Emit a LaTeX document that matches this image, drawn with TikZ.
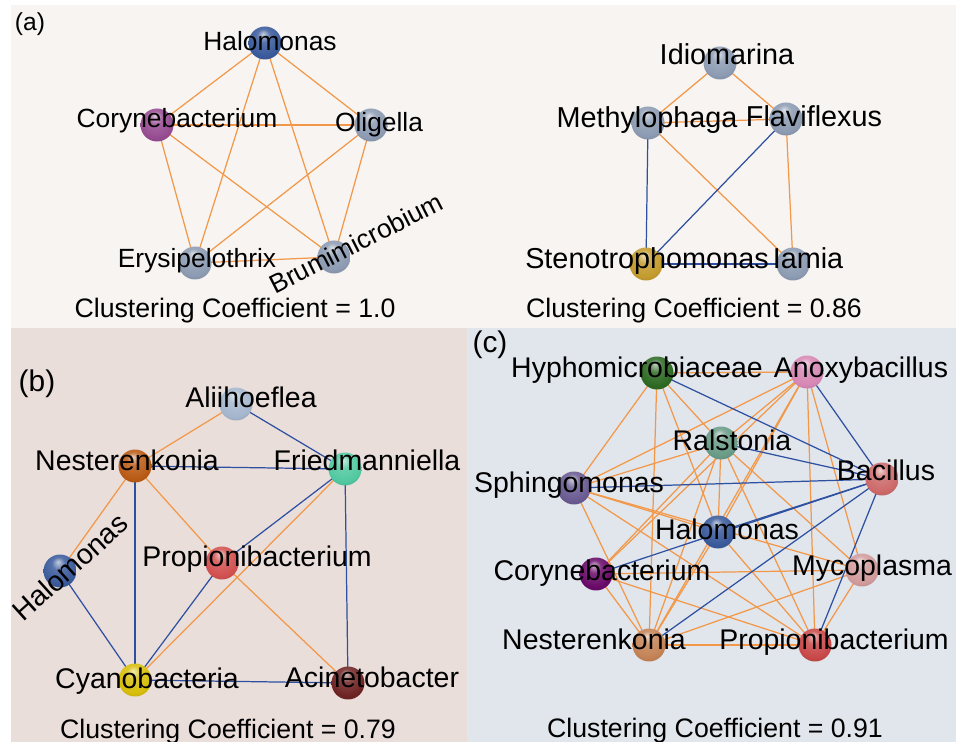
\documentclass[tikz,border=0pt]{standalone}
\usepackage{fontspec}
\setmainfont{Liberation Sans}
\makeatletter
\pgfdeclareradialshading[tikz@ball]{sphere}{\pgfqpoint{-3bp}{14bp}}{%
 color(0bp)=(tikz@ball!30!white); color(10bp)=(tikz@ball!85!white); color(26bp)=(tikz@ball); color(40bp)=(tikz@ball!78!black); color(50bp)=(tikz@ball!62!black)}
\makeatother
\pgfdeclarelayer{panels}
\pgfdeclarelayer{edges}
\pgfsetlayers{panels,edges,main}
\definecolor{panelA}{RGB}{247,244,242}
\definecolor{panelB}{RGB}{234,222,219}
\definecolor{panelC}{RGB}{225,229,236}
\definecolor{eorange}{RGB}{242,152,72}
\definecolor{eblue}{RGB}{45,80,160}
\definecolor{cHalo}{RGB}{58,90,155}
\definecolor{cCoryA}{RGB}{150,75,145}
\definecolor{cGrey}{RGB}{140,155,178}
\definecolor{cSteno}{RGB}{195,155,45}
\definecolor{cAlii}{RGB}{165,182,205}
\definecolor{cNestB}{RGB}{185,90,20}
\definecolor{cFried}{RGB}{80,200,160}
\definecolor{cPropB}{RGB}{210,80,80}
\definecolor{cCyano}{RGB}{215,190,10}
\definecolor{cAcin}{RGB}{110,35,35}
\definecolor{cHyph}{RGB}{45,105,35}
\definecolor{cAnox}{RGB}{215,135,180}
\definecolor{cRals}{RGB}{105,155,135}
\definecolor{cSphi}{RGB}{105,90,145}
\definecolor{cBaci}{RGB}{205,105,105}
\definecolor{cCoryC}{RGB}{105,10,105}
\definecolor{cMyco}{RGB}{210,155,155}
\definecolor{cNestC}{RGB}{195,130,85}
\definecolor{cPropC}{RGB}{200,72,72}
\tikzset{
  sph/.style={circle,inner sep=0pt,minimum size=0.66cm,ball color=#1,shading=sphere},
  oe/.style={draw=eorange,line width=0.7pt},
  be/.style={draw=eblue,line width=0.7pt},
  laba/.style={font=\fontsize{15}{18}\selectfont,inner sep=0pt,anchor=base},
  labr/.style={font=\fontsize{16.4}{19}\selectfont,inner sep=0pt,anchor=base},
  labc/.style={font=\fontsize{16.2}{19}\selectfont,inner sep=0pt,anchor=base},
  cc/.style={font=\fontsize{15.2}{18}\selectfont,inner sep=0pt,anchor=base},
  plab/.style={font=\fontsize{14}{17}\selectfont,inner sep=0pt},
  plabb/.style={font=\fontsize{17}{20}\selectfont,inner sep=0pt}
}
\begin{document}
\begin{tikzpicture}[x=0.02cm,y=-0.02cm]
\useasboundingbox (0,0) rectangle (956,742);
\begin{pgfonlayer}{panels}
\fill[white] (0,0) rectangle (956,742);
\fill[panelA] (11,5) rectangle (956,328);
\fill[panelB] (11,328) rectangle (467,742);
\fill[panelC] (467,328) rectangle (956,742);
\end{pgfonlayer}
% ---------- panel (a) left
\node[sph=cHalo] (aHal) at (265,43) {};
\node[sph=cCoryA] (aCor) at (157,125) {};
\node[sph=cGrey] (aOli) at (371,125) {};
\node[sph=cGrey] (aEry) at (195,263) {};
\node[sph=cGrey] (aBru) at (334,257) {};
\begin{pgfonlayer}{edges}
\foreach \u/\v in {aHal/aCor,aHal/aOli,aHal/aEry,aHal/aBru,aCor/aOli,aCor/aEry,aCor/aBru,aOli/aEry,aOli/aBru,aEry/aBru}
  \draw[oe] (\u.center) -- (\v.center);
\end{pgfonlayer}
\node[laba] (aHalL) at (270,51) {Halomonas};
\node[laba] (aCorL) at (177,128) {Corynebacterium};
\node[laba] (aOliL) at (379,132) {Oligella};
\node[laba] (aEryL) at (197,268) {Erysipelothrix};
\node[laba,anchor=center,rotate=27] (aBruL) at (356,243) {Brumimicrobium};
\node[cc] (aCC1) at (235,318) {Clustering Coefficient = 1.0};
\node[plab] (aTag) at (30,24) {(a)};
% ---------- panel (a) right
\node[sph=cGrey] (aIdi) at (720,63) {};
\node[sph=cGrey] (aMet) at (648,123) {};
\node[sph=cGrey] (aFla) at (786,119) {};
\node[sph=cSteno] (aSte) at (646,264) {};
\node[sph=cGrey] (aIam) at (793,264) {};
\begin{pgfonlayer}{edges}
\foreach \u/\v in {aIdi/aMet,aIdi/aFla,aMet/aFla,aMet/aIam,aFla/aIam}
  \draw[oe] (\u.center) -- (\v.center);
\foreach \u/\v in {aMet/aSte,aFla/aSte,aSte/aIam}
  \draw[be] (\u.center) -- (\v.center);
\end{pgfonlayer}
\node[labr] (aIdiL) at (727,65) {Idiomarina};
\node[labr] (aMetL) at (647,128) {Methylophaga};
\node[labr] (aFlaL) at (814,127) {Flaviflexus};
\node[labr] (aSteL) at (647,269) {Stenotrophomonas};
\node[labr] (aIamL) at (808,269) {Iamia};
\node[cc] (aCC2) at (694,318) {Clustering Coefficient = 0.86};
% ---------- panel (b)
\node[sph=cAlii] (bAli) at (236,404) {};
\node[sph=cNestB] (bNes) at (135,466) {};
\node[sph=cFried] (bFri) at (345,469) {};
\node[sph=cHalo] (bHal) at (60,571) {};
\node[sph=cPropB] (bPro) at (222,563) {};
\node[sph=cCyano] (bCya) at (135,680) {};
\node[sph=cAcin] (bAci) at (348,683) {};
\begin{pgfonlayer}{edges}
\foreach \u/\v in {bAli/bNes,bNes/bHal,bNes/bPro,bPro/bAci,bFri/bCya}
  \draw[oe] (\u.center) -- (\v.center);
\foreach \u/\v in {bAli/bFri,bNes/bFri,bNes/bCya,bFri/bPro,bFri/bAci,bHal/bCya,bPro/bCya,bCya/bAci}
  \draw[be] (\u.center) -- (\v.center);
\end{pgfonlayer}
\node[labc] (bAliL) at (251,408) {Aliihoeflea};
\node[labc] (bNesL) at (127,471) {Nesterenkonia};
\node[labc] (bFriL) at (367,471) {Friedmanniella};
\node[labc,anchor=center,rotate=42] (bHalL) at (70,567) {Halomonas};
\node[labc] (bProL) at (257,566) {Propionibacterium};
\node[labc] (bCyaL) at (147,688) {Cyanobacteria};
\node[labc] (bAciL) at (372,687) {Acinetobacter};
\node[cc] (bCC) at (228,738) {Clustering Coefficient = 0.79};
\node[plabb] (bTag) at (37,384) {(b)};
% ---------- panel (c)
\node[sph=cHyph] (cHy) at (657,373) {};
\node[sph=cAnox] (cAn) at (807,372) {};
\node[sph=cRals] (cRa) at (721,443) {};
\node[sph=cSphi] (cSp) at (574,488) {};
\node[sph=cBaci] (cBa) at (882,479) {};
\node[sph=cHalo] (cHa) at (718,532) {};
\node[sph=cCoryC] (cCo) at (596,574) {};
\node[sph=cMyco] (cMy) at (862,570) {};
\node[sph=cNestC] (cNe) at (649,645) {};
\node[sph=cPropC] (cPr) at (815,645) {};
\begin{pgfonlayer}{edges}
\foreach \u/\v in {cHy/cAn,cHy/cRa,cHy/cSp,cHy/cHa,cHy/cNe,
  cAn/cRa,cAn/cSp,cAn/cHa,cAn/cCo,cAn/cNe,cAn/cMy,cAn/cPr,
  cRa/cSp,cRa/cHa,cRa/cCo,cRa/cNe,cRa/cMy,cRa/cPr,
  cSp/cHa,cSp/cMy,cSp/cNe,cSp/cPr,
  cHa/cNe,cHa/cPr,cCo/cMy,cCo/cNe,cCo/cPr,cMy/cNe,cMy/cPr,cNe/cPr}
  \draw[oe] (\u.center) -- (\v.center);
\foreach \u in {cHy,cAn,cRa,cSp,cHa,cCo,cNe,cPr}
  \draw[be] (\u.center) -- (cBa.center);
\end{pgfonlayer}
\node[labc] (cHyL) at (637,378) {Hyphomicrobiaceae};
\node[labc] (cAnL) at (861,378) {Anoxybacillus};
\node[labc] (cRaL) at (732,451) {Ralstonia};
\node[labc] (cSpL) at (569,493) {Sphingomonas};
\node[labc] (cBaL) at (886,481) {Bacillus};
\node[labc] (cHaL) at (727,540) {Halomonas};
\node[labc] (cCoL) at (602,581) {Corynebacterium};
\node[labc] (cMyL) at (872,575) {Mycoplasma};
\node[labc] (cNeL) at (594,649) {Nesterenkonia};
\node[labc] (cPrL) at (834,649) {Propionibacterium};
\node[cc] (cCC) at (715,737) {Clustering Coefficient = 0.91};
\node[plabb] (cTag) at (490,345) {(c)};
\end{tikzpicture}
\end{document}
